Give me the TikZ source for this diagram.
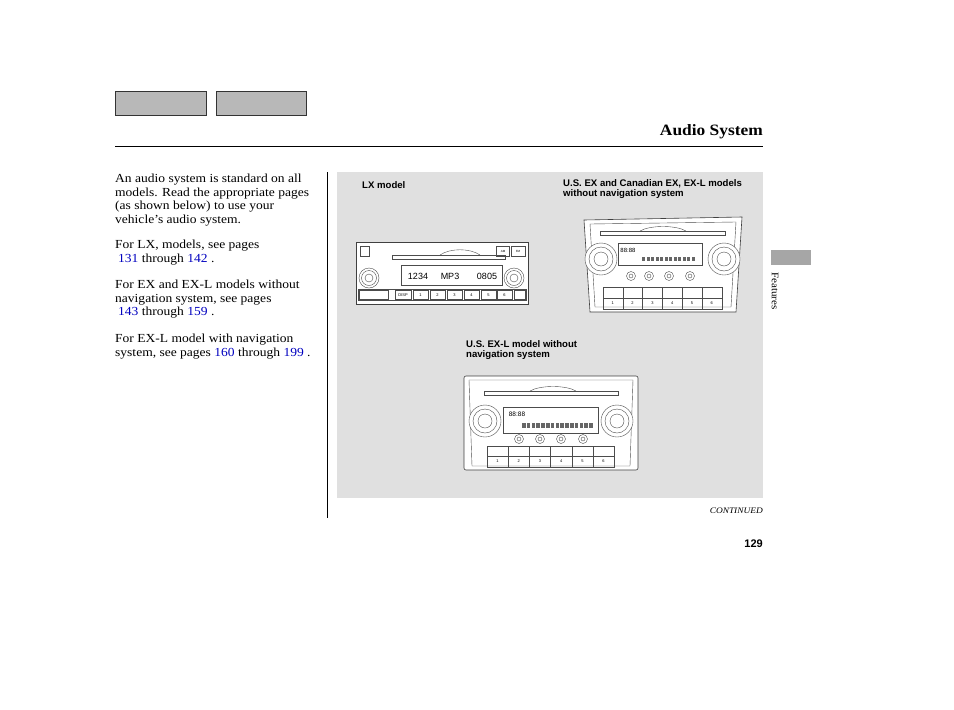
\documentclass[tikz,border=0pt]{standalone}
\usepackage{fontspec}
\setmainfont[FakeStretch=1.1]{Liberation Serif}
\setsansfont{Liberation Sans}
\begin{document}
\begin{tikzpicture}[x=1pt,y=-1pt,
  tab/.style={draw=black!80,line width=1pt,fill=black!28},
  lbl/.style={font=\sffamily\bfseries\fontsize{9.6}{10.8}\selectfont,anchor=north west,align=left,inner sep=0},
  body/.style={font=\fontsize{12.3}{13.6}\selectfont,anchor=north west,align=left,inner sep=0},
  rad/.style={draw=black!75,line width=0.6pt,fill=white},
  thin/.style={draw=black!70,line width=0.4pt},
  tiny/.style={font=\sffamily\fontsize{3}{3}\selectfont,inner sep=0},
  lk/.style={color=blue!75!black}]
\useasboundingbox (0,0) rectangle (954,710);
\node[tab,minimum width=91,minimum height=24,anchor=north west] (t1) at (115,91) {};
\node[tab,minimum width=90,minimum height=24,anchor=north west] (t2) at (216,91) {};
\node[font=\bfseries\fontsize{15.8}{18}\selectfont,anchor=east,inner sep=0] (title) at (763,132) {Audio System};
\draw[line width=0.8pt] (115,146) -- (763,146);
\node[body] (p1) at (115,174) {An audio system is standard on all\\models. Read the appropriate pages\\(as shown below) to use your\\vehicle's audio system.};
\node[body] (p2) at (115,240) {For LX, models, see pages\\ \hspace*{3pt}\textcolor{blue!75!black}{131} through \textcolor{blue!75!black}{142} .};
\node[body] (p3) at (115,280) {For EX and EX-L models without\\navigation system, see pages\\ \hspace*{3pt}\textcolor{blue!75!black}{143} through \textcolor{blue!75!black}{159} .};
\node[body] (p4) at (115,334) {For EX-L model with navigation\\system, see pages \textcolor{blue!75!black}{160} through \textcolor{blue!75!black}{199} .};
\draw[line width=0.8pt] (327,172) -- (327,518);
\fill[black!12] (337,172) rectangle (763,498);
\node[lbl] (l1) at (362,181) {LX model};
\node[lbl] (l2) at (563,179) {U.S. EX and Canadian EX, EX-L models\\without navigation system};
\node[lbl] (l3) at (466,340) {U.S. EX-L model without\\navigation system};
% side tab
\fill[black!35] (771,250) rectangle (811,265);
\node[rotate=-90,font=\fontsize{10}{10}\selectfont,inner sep=0] (feat) at (775,291) {Features};
\node[font=\itshape\fontsize{8.5}{9}\selectfont,anchor=east,inner sep=0] (cont) at (763,511) {CONTINUED};
\node[font=\sffamily\bfseries\fontsize{11}{12}\selectfont,anchor=east,inner sep=0] (pg) at (763,544) {129};
% ---- LX radio
\draw[rad] (356,242) rectangle (528,304);
\draw[thin] (392,255) rectangle (505,259);
\draw[thin] (440,255) .. controls (450,248) and (470,248) .. (480,255);
\draw[thin] (360,246) rectangle (369,256);
\draw[thin] (525,246) rectangle (511,256) (509,246) rectangle (496,256);
\node[tiny] at (503,251) {AM}; \node[tiny] at (518,251) {FM};
\draw[thin] (401,265) rectangle (502,285);
\node[font=\sffamily\fontsize{9}{9}\selectfont,inner sep=0] at (418,276) {1234};
\node[font=\sffamily\fontsize{9}{9}\selectfont,inner sep=0] at (450,276) {MP3};
\node[font=\sffamily\fontsize{9}{9}\selectfont,inner sep=0] at (487,276) {0805};
\foreach \cx in {369,514}{
  \draw[thin] (\cx,278) circle (10); \draw[thin] (\cx,278) circle (7.5); \draw[thin] (\cx,278) circle (4);}
\draw[thin] (358,289) rectangle (526,300);
\foreach \a/\b/\t in {359/388/,395/411/DISP,413/428/1,430/445/2,447/462/3,464/479/4,481/496/5,497/512/6,514/525/}{
  \draw[thin] (\a,290) rectangle (\b,299); \node[tiny,font=\sffamily\fontsize{4}{4}\selectfont] at ({(\a+\b)/2},295) {\t};}
% ---- EX radio
\draw[rad] (584,220) -- (742,217) -- (736,312) -- (590,312) -- cycle;
\draw[thin] (590,224) -- (736,222) -- (731,307) -- (595,307) -- cycle;
\draw[thin] (600,231) rectangle (725,235);
\draw[thin] (640,231) .. controls (650,225) and (676,225) .. (686,231);
\draw[thin] (618,243) rectangle (702,265);
\node[font=\sffamily\fontsize{6}{6}\selectfont,inner sep=0] at (628,250) {88:88};
\foreach \i in {0,...,11} \fill[black!60] (642+\i*4.5,257) rectangle (645+\i*4.5,261);
\foreach \cx in {601,724}{
  \draw[thin,fill=white] (\cx,259) circle (16); \draw[thin] (\cx,259) circle (12); \draw[thin] (\cx,259) circle (7);}
\foreach \cx in {631,649,669,690}{\draw[thin] (\cx,276) circle (4.5); \draw[thin] (\cx,276) circle (2);}
\draw[thin] (603,287) rectangle (722,309);
\draw[thin] (603,298) -- (722,298);
\foreach \i in {1,...,5}{\draw[thin] ({603+\i*19.8},287) -- ({603+\i*19.8},309);}
\foreach \i in {1,...,6}{\node[tiny,font=\sffamily\fontsize{4}{4}\selectfont] at ({593+\i*19.8},303) {\i};}
% ---- EX-L radio
\draw[rad,rounded corners=2] (464,376) rectangle (638,470);
\draw[thin] (469,380) -- (633,380) -- (630,466) -- (472,466) -- cycle;
\draw[thin] (484,391) rectangle (618,395);
\draw[thin] (530,391) .. controls (540,385) and (566,385) .. (576,391);
\draw[thin] (503,407) rectangle (598,433);
\node[font=\sffamily\fontsize{6.5}{6.5}\selectfont,inner sep=0] at (517,414) {88:88};
\foreach \i in {0,...,14} \fill[black!60] (522+\i*4.8,423) rectangle (525.5+\i*4.8,428);
\foreach \cx in {485,617}{
  \draw[thin,fill=white] (\cx,421) circle (16); \draw[thin] (\cx,421) circle (12); \draw[thin] (\cx,421) circle (7);}
\foreach \cx in {519,540,561,583}{\draw[thin] (\cx,439) circle (4.5); \draw[thin] (\cx,439) circle (2);}
\draw[thin] (487,446) rectangle (614,467);
\draw[thin] (487,456.5) -- (614,456.5);
\foreach \i in {1,...,5}{\draw[thin] ({487+\i*21.2},446) -- ({487+\i*21.2},467);}
\foreach \i in {1,...,6}{\node[tiny,font=\sffamily\fontsize{4}{4}\selectfont] at ({476.4+\i*21.2},461) {\i};}
\end{tikzpicture}
\end{document}
